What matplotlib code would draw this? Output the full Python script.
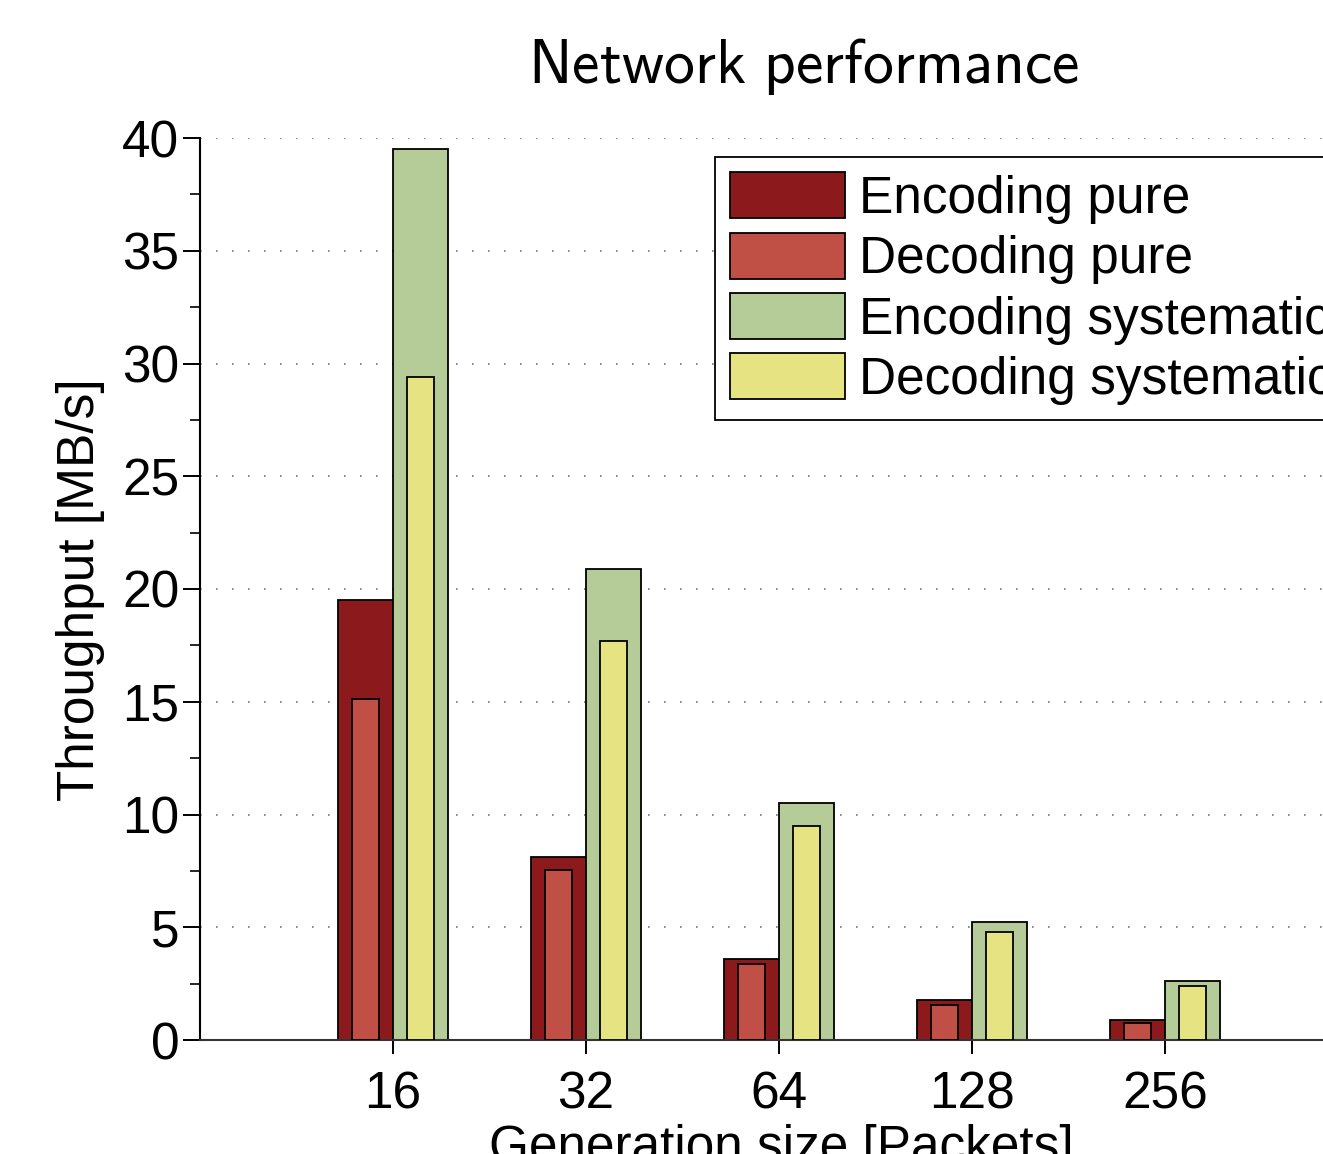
import matplotlib
matplotlib.use("Agg")
import matplotlib.pyplot as plt
from matplotlib.ticker import MultipleLocator

plt.rcParams['font.family'] = ['Liberation Sans', 'DejaVu Sans']
plt.rcParams['mathtext.fontset'] = 'cm'

# donnees (MB/s)
gen_sizes = ["16", "32", "64", "128", "256"]
enc_pure = [19.5, 8.1, 3.6, 1.77, 0.89]
dec_pure = [15.1, 7.55, 3.37, 1.55, 0.75]
enc_sys = [39.5, 20.9, 10.5, 5.23, 2.6]
dec_sys = [29.4, 17.7, 9.5, 4.8, 2.4]

labels = ["Encoding pure", "Decoding pure", "Encoding systematic", "Decoding systematic"]
colors = ['#8c1a1d', '#c04f46', '#b5cc98', '#e6e382']

fig = plt.figure(figsize=(13.23, 11.54), dpi=100)
ax = fig.add_axes([200 / 1323, 114 / 1154, 1158 / 1323, 902 / 1154])

pos = list(range(1, len(gen_sizes) + 1))
wide = 0.285
narrow = 0.14
off = wide / 2

left = [p - off for p in pos]
right = [p + off for p in pos]

b1 = ax.bar(left, enc_pure, wide, color=colors[0], edgecolor='black', linewidth=1.3, zorder=2)
b2 = ax.bar(left, dec_pure, narrow, color=colors[1], edgecolor='black', linewidth=1.3, zorder=3)
b3 = ax.bar(right, enc_sys, wide, color=colors[2], edgecolor='black', linewidth=1.3, zorder=2)
b4 = ax.bar(right, dec_sys, narrow, color=colors[3], edgecolor='black', linewidth=1.3, zorder=3)

ax.set_xlim(0, 6)
ax.set_ylim(0, 40)
ax.set_xticks(pos)
ax.set_xticklabels(gen_sizes)
ax.yaxis.set_major_locator(MultipleLocator(5))
ax.yaxis.set_minor_locator(MultipleLocator(2.5))

ax.tick_params(axis='both', which='major', labelsize=37, direction='out', width=1.4)
ax.tick_params(axis='y', which='major', length=12, pad=3)
ax.tick_params(axis='y', which='minor', length=7, width=1.2)
ax.tick_params(axis='x', which='major', length=10, pad=12)

ax.yaxis.grid(True, linestyle=(0, (1, 8.6)), linewidth=1.2, color='#777777', zorder=0)
ax.set_axisbelow(True)

ax.spines['top'].set_visible(False)
ax.spines['right'].set_visible(False)
ax.spines['left'].set_linewidth(1.5)
ax.spines['bottom'].set_linewidth(1.5)
ax.spines['bottom'].set_color('#333333')

leg = ax.legend([b1, b2, b3, b4], labels, loc='upper left',
                bbox_to_anchor=((715 - 200) / 1158, (1040 - 157) / 902),
                borderaxespad=0, fontsize=37, handlelength=2.23, handleheight=1.0,
                handletextpad=0.27, labelspacing=0.17, borderpad=0.3,
                fancybox=False, framealpha=1, edgecolor='black')
leg.get_frame().set_linewidth(1.3)

fig.text(804 / 1323, (1154 - 83) / 1154, r"$\mathsf{Network\ performance}$",
         fontsize=44.4, ha='center', va='baseline')
fig.text(81 / 1323, (1154 - 590) / 1154, "Throughput [MB/s]", fontsize=37,
         rotation=90, ha='center', va='center')
fig.text(781 / 1323, -8 / 1154, "Generation size [Packets]", fontsize=37,
         ha='center', va='baseline')

fig.savefig("out.png", dpi=100)
plt.close()
